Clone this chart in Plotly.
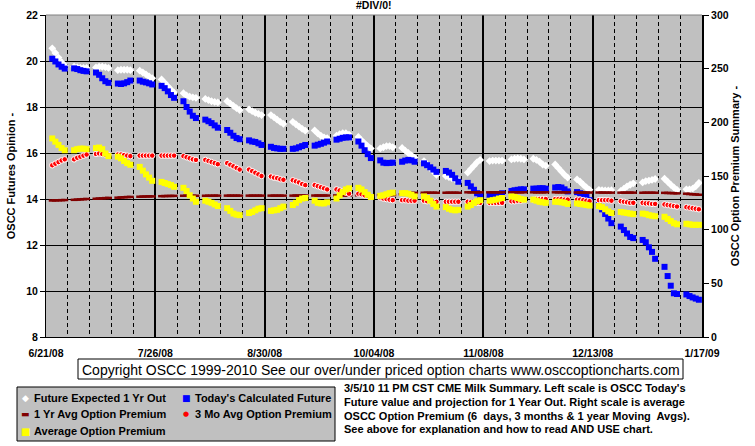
import pandas as pd
import plotly.graph_objects as go

# ---------------- data ----------------
dates = pd.bdate_range("2008-06-23", "2009-01-16")  # trading days (Mon-Fri)

future_expected_1yr = [
    20.55, 20.35, 20.15, 19.95, 19.8,
    19.75, 19.72, 19.7, 19.7, 19.7,
    19.72, 19.75, 19.75, 19.73, 19.7,
    19.6, 19.62, 19.62, 19.62, 19.6,
    19.58, 19.5, 19.42, 19.33, 19.25,
    19.2, 19.05, 18.9, 18.75, 18.62,
    18.6, 18.5, 18.45, 18.42, 18.4,
    18.35, 18.3, 18.25, 18.22, 18.2,
    18.25, 18.15, 18.05, 17.95, 17.87,
    17.9, 17.82, 17.75, 17.7, 17.65,
    17.65, 17.55, 17.45, 17.35, 17.27,
    17.35, 17.25, 17.15, 17.05, 16.97,
    16.98, 16.85, 16.75, 16.68, 16.65,
    16.75, 16.82, 16.86, 16.86, 16.8,
    16.7, 16.55, 16.42, 16.3, 16.2,
    16.2, 16.25, 16.3, 16.3, 16.25,
    16.22, 16.1, 16.0, 15.9, 15.8,
    15.65, 15.5, 15.35, 15.2, 15.05,
    15.0, 14.95, 14.9, 14.85, 14.8,
    15.15, 15.3, 15.45, 15.6, 15.7,
    15.65, 15.67, 15.67, 15.67, 15.67,
    15.72, 15.75, 15.76, 15.75, 15.72,
    15.75, 15.7, 15.62, 15.5, 15.45,
    15.5, 15.35, 15.2, 15.05, 14.93,
    14.85, 14.75, 14.62, 14.5, 14.4,
    14.4, 14.38, 14.37, 14.37, 14.38,
    14.35, 14.45, 14.55, 14.62, 14.68,
    14.72, 14.78, 14.8, 14.83, 14.87,
    14.88, 14.75, 14.62, 14.5, 14.4,
    14.42, 14.42, 14.45, 14.55, 14.7,
]

todays_calculated_future = [
    20.1, 19.98, 19.85, 19.75, 19.67,
    19.68, 19.65, 19.6, 19.57, 19.55,
    19.5, 19.4, 19.25, 19.12, 19.05,
    19.02, 19.0, 19.03, 19.08, 19.15,
    19.15, 19.1, 19.07, 19.03, 18.98,
    18.92, 18.82, 18.68, 18.52, 18.4,
    18.25, 18.0, 17.8, 17.62, 17.52,
    17.45, 17.38, 17.3, 17.2, 17.1,
    17.0, 16.88, 16.75, 16.65, 16.6,
    16.55, 16.5, 16.48, 16.42, 16.35,
    16.27, 16.22, 16.2, 16.18, 16.18,
    16.18, 16.2, 16.25, 16.3, 16.35,
    16.32, 16.36, 16.4, 16.45, 16.5,
    16.58, 16.62, 16.66, 16.68, 16.68,
    16.5, 16.32, 16.12, 15.95, 15.78,
    15.68, 15.58, 15.56, 15.57, 15.58,
    15.62, 15.67, 15.7, 15.68, 15.62,
    15.55, 15.47, 15.38, 15.28, 15.18,
    15.22, 15.15, 15.05, 14.9, 14.75,
    14.7, 14.55, 14.4, 14.25, 14.12,
    14.15, 14.15, 14.17, 14.2, 14.25,
    14.35, 14.38, 14.4, 14.42, 14.42,
    14.45, 14.45, 14.47, 14.47, 14.45,
    14.5, 14.52, 14.5, 14.42, 14.33,
    14.3, 14.25, 14.2, 14.1, 13.95,
    13.75, 13.55, 13.35, 13.15, 12.95,
    12.8, 12.65, 12.5, 12.35, 12.3,
    12.22, 12.12, 11.9, 11.7, 11.4,
    11.05, 10.65, 10.23, 9.9, 9.87,
    9.85, 9.78, 9.72, 9.67, 9.62,
]

avg_option_premium_1yr = [
    127.2, 127.3, 127.4, 127.5, 127.6,
    127.8, 128.0, 128.2, 128.4, 128.6,
    128.8, 129.0, 129.2, 129.4, 129.6,
    129.8, 130.0, 130.2, 130.4, 130.5,
    130.7, 130.8, 130.9, 131.0, 131.0,
    131.2, 131.3, 131.4, 131.4, 131.5,
    131.6, 131.6, 131.6, 131.6, 131.6,
    131.6, 131.6, 131.6, 131.7, 131.7,
    131.7, 131.7, 131.7, 131.7, 131.7,
    131.7, 131.7, 131.7, 131.7, 131.7,
    131.7, 131.7, 131.7, 131.7, 131.7,
    131.7, 131.8, 131.8, 131.8, 131.8,
    131.8, 131.8, 131.8, 131.8, 131.8,
    131.9, 131.9, 131.9, 131.9, 131.9,
    132.0, 132.0, 132.0, 132.0, 132.0,
    132.2, 132.2, 132.2, 132.2, 132.2,
    133.0, 133.5, 134.0, 134.2, 134.3,
    134.4, 134.4, 134.4, 134.4, 134.4,
    134.4, 134.4, 134.4, 134.4, 134.4,
    134.8, 134.8, 134.8, 134.8, 134.8,
    134.8, 134.8, 134.8, 134.8, 134.8,
    134.8, 134.8, 134.8, 134.8, 134.8,
    134.8, 134.8, 134.8, 134.8, 134.8,
    134.8, 134.8, 134.8, 134.8, 134.8,
    134.6, 134.6, 134.6, 134.6, 134.6,
    134.6, 134.6, 134.5, 134.5, 134.5,
    134.5, 134.5, 134.5, 134.5, 134.5,
    134.4, 134.4, 134.4, 134.4, 134.4,
    134.3, 134.2, 134.1, 134.0, 133.8,
    133.5, 133.2, 133.0, 132.8, 132.5,
]

avg_option_premium_3mo = [
    160, 161.5, 163, 164.5, 165.5,
    165.5, 167, 168, 169, 170,
    170.5, 171, 170.5, 170, 169.5,
    170, 170, 169.5, 169, 168.5,
    169, 169, 169, 169, 169,
    169, 169, 169, 169, 169,
    168.5, 167.5, 166.5, 165.5, 165,
    165, 164, 163, 162, 161,
    162, 160.5, 159, 157.5, 156,
    156, 154.5, 153, 151.5, 150,
    149.5, 148.5, 148, 147, 146.5,
    146, 145, 144, 142.5, 141.5,
    141.5, 140.5, 139.5, 138.5, 137.5,
    137.5, 136.5, 135.5, 134.5, 133.5,
    133.5, 133, 132, 131.5, 130.5,
    130, 129, 128.5, 128, 127.5,
    127.5, 127.5, 127, 127, 127,
    127, 126.5, 126.5, 126, 126,
    126, 126, 126, 126, 126,
    126, 125.5, 125.5, 125, 125,
    125, 125, 125, 125, 125,
    126.5, 126.5, 127, 127, 127.5,
    128, 128.5, 128.5, 128.5, 128.5,
    128.5, 128.5, 128.5, 128, 128,
    128, 128, 127.5, 127, 126.5,
    127.5, 127.5, 127.5, 127.5, 127,
    126.5, 126, 125.5, 125, 125,
    125, 124.5, 124.5, 124, 124,
    123.5, 123, 122.5, 122, 121.5,
    121, 120.5, 120, 119.5, 119,
]

average_option_premium = [
    185, 182, 179, 176, 174,
    174, 175, 175.5, 175.5, 175,
    176, 176.5, 175, 171, 168.5,
    168, 166.5, 164, 162, 160.5,
    158.5, 155, 151.5, 148.5, 145.5,
    144.5, 143.5, 142.5, 141.5, 140,
    139, 136, 132, 129, 126,
    127, 126, 125, 123.5, 122,
    120, 117.5, 115, 114, 113.5,
    115.5, 116.5, 118, 119.5, 120,
    117.5, 118, 118.5, 120, 121.5,
    123, 125, 127.5, 129, 129.5,
    127, 125, 124.5, 124.5, 125.5,
    129, 132, 135, 137.5, 138.5,
    139, 137.5, 135, 132.5, 130.5,
    131.5, 132, 133, 134, 134.5,
    134, 134, 133.5, 132.5, 131,
    131, 129.5, 127, 124, 121.5,
    121, 119.5, 118.5, 118, 118.5,
    121.5, 123, 125, 126.5, 127.5,
    127, 127.5, 128, 129, 129.5,
    131, 130.5, 129.5, 128.5, 128,
    128, 127, 126, 125.5, 125,
    126, 126, 125.5, 125, 124,
    124.5, 124, 123.5, 123, 122.5,
    122, 121, 119, 117, 115.5,
    116.5, 116, 115.5, 115, 114.5,
    115, 114.5, 113.5, 113, 112.5,
    112, 110, 108, 106, 105,
    105.5, 105, 104.5, 104.5, 104.5,
]

major_ticks = ["2008-06-21", "2008-07-26", "2008-08-30", "2008-10-04",
               "2008-11-08", "2008-12-13", "2009-01-17"]

series_names = ["Future Expected 1 Yr Out", "Today's Calculated Future",
                "1 Yr Avg Option Premium", "3 Mo Avg Option Premium",
                "Average Option Premium"]

chart_title = "#DIV/0!"
left_title = "OSCC Futures Opinion -"
right_title = "OSCC Option Premium Summary -"
copyright_text = ("Copyright OSCC 1999-2010 See our over/under priced option charts "
                  "www.osccoptioncharts.com")
note_lines = [
    "3/5/10 11 PM CST CME Milk Summary. Left scale is OSCC Today's",
    "Future value and projection for 1 Year Out. Right scale is average",
    "OSCC Option Premium (6  days, 3 months & 1 year Moving  Avgs).",
    "See above for explanation and how to read AND USE chart.",
]

# ---------------- figure ----------------
W, H = 755, 446
L, R, T, B = 46, 53, 15, 109
PW, PH = W - L - R, H - T - B
FONT = "Arial, 'Liberation Sans', sans-serif"


def xp(px):
    return (px - L) / PW


def yp(py):
    return (H - B - py) / PH


fig = go.Figure()
fig.add_trace(go.Scatter(x=dates, y=future_expected_1yr, mode="markers", name=series_names[0],
                         marker=dict(symbol="diamond", size=6, color="white", line=dict(width=0))))
fig.add_trace(go.Scatter(x=dates, y=todays_calculated_future, mode="markers", name=series_names[1],
                         marker=dict(symbol="square", size=6, color="#0000FF", line=dict(width=0))))
fig.add_trace(go.Scatter(x=dates, y=avg_option_premium_1yr, mode="markers", name=series_names[2],
                         yaxis="y2",
                         marker=dict(symbol="line-ew", size=5, color="#800000",
                                     line=dict(width=2.5, color="#800000"))))
fig.add_trace(go.Scatter(x=dates, y=avg_option_premium_3mo, mode="markers", name=series_names[3],
                         yaxis="y2",
                         marker=dict(symbol="circle", size=5.5, color="#FF0000",
                                     line=dict(width=1, color="white"))))
fig.add_trace(go.Scatter(x=dates, y=average_option_premium, mode="markers", name=series_names[4],
                         yaxis="y2",
                         marker=dict(symbol="square", size=6, color="#FFFF00", line=dict(width=0))))

tickfont = dict(family=FONT, size=10.5, color="black", weight="bold")

fig.update_layout(
    width=W, height=H,
    margin=dict(l=L, r=R, t=T, b=B, autoexpand=False),
    paper_bgcolor="white",
    plot_bgcolor="#C0C0C0",
    showlegend=False,
    hovermode=False,
    font=dict(family=FONT, size=11, color="black"),
    xaxis=dict(
        type="date",
        range=["2008-06-21", "2009-01-17"],
        tickmode="array",
        tickvals=major_ticks,
        tickformat="%-m/%d/%y",
        tickfont=tickfont,
        ticks="",
        ticklabelstandoff=6,
        showgrid=True, gridcolor="black", gridwidth=2,
        minor=dict(dtick=7 * 86400000, tick0="2008-06-21", showgrid=True,
                   gridcolor="black", gridwidth=1, griddash="4px,3px"),
        showline=True, linecolor="black", linewidth=1,
        zeroline=False,
    ),
    yaxis=dict(
        range=[8, 22], tick0=8, dtick=2,
        tickfont=tickfont,
        ticks="outside", ticklen=5, tickcolor="black", tickwidth=1,
        showgrid=True, gridcolor="black", gridwidth=1,
        showline=True, linecolor="black", linewidth=1,
        zeroline=False,
        title=dict(text=left_title, font=dict(family=FONT, size=11, weight="bold"), standoff=8),
    ),
    yaxis2=dict(
        overlaying="y", side="right",
        range=[0, 300], tick0=0, dtick=50,
        tickfont=tickfont,
        ticks="outside", ticklen=5, tickcolor="black", tickwidth=1,
        showgrid=False,
        showline=True, linecolor="black", linewidth=2,
        zeroline=False,
        title=dict(text=right_title, font=dict(family=FONT, size=11, weight="bold"), standoff=4),
    ),
)

shapes = [
    # top border of plot area
    dict(type="line", xref="paper", yref="paper", x0=0, x1=1, y0=1, y1=1,
         line=dict(color="#808080", width=1)),
    # copyright box
    dict(type="rect", xref="paper", yref="paper", x0=xp(78), x1=xp(683), y0=yp(359), y1=yp(379),
         line=dict(color="black", width=1), fillcolor="white"),
    # legend box
    dict(type="rect", xref="paper", yref="paper", x0=xp(17), x1=xp(335), y0=yp(387), y1=yp(441),
         line=dict(color="black", width=1), fillcolor="#C0C0C0"),
]

annotations = [
    dict(text=chart_title, xref="paper", yref="paper", x=xp(374), y=yp(5), xanchor="center",
         yanchor="middle", showarrow=False, font=dict(family=FONT, size=10.5, weight="bold")),
    dict(text=copyright_text, xref="paper", yref="paper", x=xp(380.5), y=yp(369.5),
         xanchor="center", yanchor="middle", showarrow=False,
         font=dict(family=FONT, size=14)),
]

for i, line in enumerate(note_lines):
    annotations.append(dict(text=line, xref="paper", yref="paper", x=xp(342), y=yp(388 + 13.8 * i),
                            xanchor="left", yanchor="middle", showarrow=False,
                            font=dict(family=FONT, size=11, weight="bold")))

# legend entries (text + glyph keys)
legend_items = [
    (series_names[0], 25, 397.5, "◆", "white", 9),
    (series_names[1], 186, 397.5, "■", "#0000FF", 9),
    (series_names[2], 25, 414, "▬", "#800000", 9),
    (series_names[3], 186, 414, "●", "#FF0000", 7),
    (series_names[4], 25, 431, "■", "#FFFF00", 10),
]
for name, sx, sy, glyph, col, gs in legend_items:
    annotations.append(dict(text=glyph, xref="paper", yref="paper", x=xp(sx), y=yp(sy),
                            xanchor="center", yanchor="middle", showarrow=False,
                            font=dict(family="DejaVu Sans", size=gs, color=col)))
    annotations.append(dict(text=name, xref="paper", yref="paper", x=xp(sx + 7), y=yp(sy),
                            xanchor="left", yanchor="middle", showarrow=False,
                            font=dict(family=FONT, size=11, weight="bold")))

fig.update_layout(shapes=shapes, annotations=annotations)
fig.write_html("out.html",
               config={"displayModeBar": False, "staticPlot": True},
               post_script="document.body.style.margin='0';document.body.style.overflow='hidden';")
